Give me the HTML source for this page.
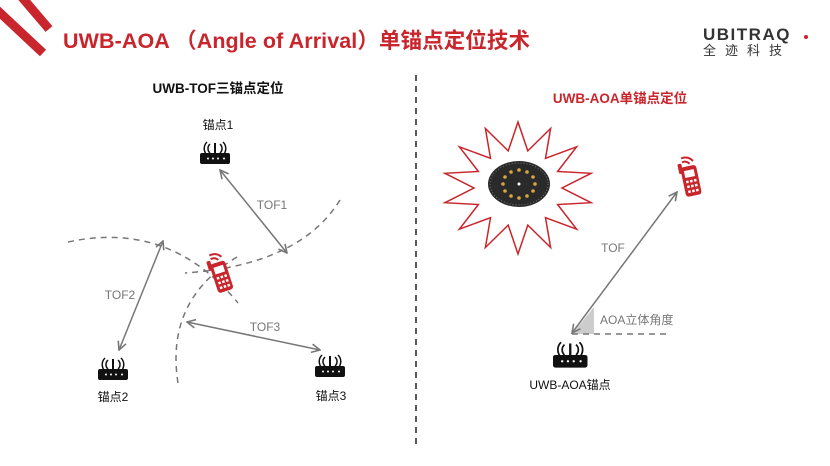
<!DOCTYPE html>
<html><head><meta charset="utf-8"><style>
html,body{margin:0;padding:0;background:#fff;}
body{width:830px;height:466px;overflow:hidden;position:relative;font-family:"Liberation Sans","Noto Sans CJK SC",sans-serif;}
</style></head><body>
<svg width="830" height="466" viewBox="0 0 830 466" xmlns="http://www.w3.org/2000/svg" style="position:absolute;left:0;top:0">
<defs>
<marker id="ah" viewBox="0 0 10 10" refX="9" refY="5" markerWidth="7" markerHeight="7" orient="auto-start-reverse"><path d="M1,1 L9,5 L1,9" fill="none" stroke="#777" stroke-width="1.5"/></marker>
<g id="router">
<rect x="0" y="13" width="30" height="11" rx="2" fill="#111"/>
<rect x="14" y="3" width="2" height="11" fill="#111"/>
<path d="M10,4 A6,6 0 0 0 10,13 M7,2 A9,9 0 0 0 7,15 M20,4 A6,6 0 0 1 20,13 M23,2 A9,9 0 0 1 23,15" fill="none" stroke="#111" stroke-width="1.5"/>
<circle cx="8" cy="18.5" r="1" fill="#fff"/><circle cx="13" cy="18.5" r="1" fill="#fff"/><circle cx="18" cy="18.5" r="1" fill="#fff"/><circle cx="24" cy="18.5" r="1" fill="#fff"/>
</g>
<g id="phone">
<rect x="2" y="10" width="16" height="30" rx="3" fill="#c9252c"/>
<rect x="0" y="6" width="4" height="10" rx="1" fill="#c9252c"/>
<rect x="5" y="14" width="10" height="7" fill="#fff"/>
<g fill="#fff"><rect x="5" y="24" width="2.5" height="2.5"/><rect x="9" y="24" width="2.5" height="2.5"/><rect x="13" y="24" width="2.5" height="2.5"/><rect x="5" y="29" width="2.5" height="2.5"/><rect x="9" y="29" width="2.5" height="2.5"/><rect x="13" y="29" width="2.5" height="2.5"/><rect x="5" y="34" width="2.5" height="2.5"/><rect x="9" y="34" width="2.5" height="2.5"/><rect x="13" y="34" width="2.5" height="2.5"/></g>
<path d="M5,5 A6,6 0 0 1 12,8 M5,1 A10,10 0 0 1 16,6" fill="none" stroke="#c9252c" stroke-width="2"/>
</g>
</defs>
<!-- header stripes -->
<line x1="20" y1="-5" x2="49" y2="29" stroke="#c9252c" stroke-width="9"/>
<line x1="-4" y1="9" x2="43" y2="53" stroke="#c9252c" stroke-width="9"/>
<text x="63" y="48" font-size="21.5" font-weight="bold" fill="#c9252c" textLength="467">UWB-AOA （Angle of Arrival）单锚点定位技术</text>
<text x="703" y="40" font-size="17" fill="#333" letter-spacing="1.5" font-weight="bold">UBITRAQ</text>
<circle cx="806" cy="37" r="2" fill="#c9252c"/>
<text x="703" y="55" font-size="13" fill="#333" letter-spacing="9">全迹科技</text>
<!-- divider -->
<line x1="416" y1="75" x2="416" y2="446" stroke="#222" stroke-width="1.5" stroke-dasharray="6,5"/>
<!-- left -->
<text x="218" y="93" font-size="13.5" font-weight="bold" fill="#111" text-anchor="middle">UWB-TOF三锚点定位</text>
<g fill="none" stroke="#777" stroke-width="1.5" stroke-dasharray="6,5">
<path d="M340,200 Q300,265 185,273"/>
<path d="M68,242 Q170,220 238,303"/>
<path d="M237,257 Q165,300 178,383"/>
</g>
<g stroke="#777" stroke-width="1.5" marker-start="url(#ah)" marker-end="url(#ah)">
<line x1="220" y1="170" x2="287" y2="253"/>
<line x1="163" y1="241" x2="119" y2="350"/>
<line x1="187" y1="322" x2="320" y2="350"/>
</g>
<use href="#router" x="200" y="140"/>
<use href="#router" x="98" y="356"/>
<use href="#router" x="315" y="353"/>
<use href="#phone" transform="translate(210,252) rotate(-18 10 20)"/>
<g font-size="12" fill="#111" text-anchor="middle">
<text x="218" y="129">锚点1</text><text x="113" y="401">锚点2</text><text x="331" y="400">锚点3</text>
</g>
<g font-size="12" fill="#777" text-anchor="middle">
<text x="272" y="209">TOF1</text><text x="120" y="299">TOF2</text><text x="265" y="331">TOF3</text>
</g>
<!-- right -->
<text x="620" y="103" font-size="13.5" font-weight="bold" fill="#c9252c" text-anchor="middle">UWB-AOA单锚点定位</text>
<polygon points="518,122 527.8,150.9 550.6,128.5 545.5,158.3 576.6,146.8 557.6,171.5 591.1,173.3 562,188 591.1,202.7 557.6,204.5 576.6,229.2 545.5,217.7 550.6,247.5 527.8,225.1 518,254 508.2,225.1 485.4,247.5 490.5,217.7 459.4,229.2 478.4,204.5 444.9,202.7 474,188 444.9,173.3 478.4,171.5 459.4,146.8 490.5,158.3 485.4,128.5 508.2,150.9" fill="#fff" stroke="#c9252c" stroke-width="1.5"/>
<ellipse cx="519" cy="184" rx="31" ry="23" fill="#2a2a2a"/>
<ellipse cx="519" cy="184" rx="29" ry="21" fill="none" stroke="#777" stroke-width="1" stroke-dasharray="1,2"/>
<g fill="#d9a640">
<circle cx="519" cy="170" r="1.8"/><circle cx="527" cy="172" r="1.8"/><circle cx="533" cy="177" r="1.8"/><circle cx="535" cy="184" r="1.8"/><circle cx="533" cy="191" r="1.8"/><circle cx="527" cy="196" r="1.8"/><circle cx="519" cy="198" r="1.8"/><circle cx="511" cy="196" r="1.8"/><circle cx="505" cy="191" r="1.8"/><circle cx="503" cy="184" r="1.8"/><circle cx="505" cy="177" r="1.8"/><circle cx="511" cy="172" r="1.8"/>
</g>
<circle cx="519" cy="184" r="1.5" fill="#fff"/>
<polygon points="572,334 594,334 594,307" fill="#ccc"/>
<line x1="572" y1="334" x2="666" y2="334" stroke="#777" stroke-width="1.5" stroke-dasharray="6,5"/>
<line x1="572" y1="333" x2="677" y2="192" stroke="#777" stroke-width="1.5" marker-start="url(#ah)" marker-end="url(#ah)"/>
<use href="#phone" transform="translate(680,156) rotate(-12 10 20)"/>
<use href="#router" transform="translate(553,340) scale(1.15)"/>
<text x="613" y="252" font-size="12" fill="#777" text-anchor="middle">TOF</text>
<text x="600" y="324" font-size="12" fill="#777">AOA立体角度</text>
<text x="570" y="389" font-size="12" fill="#111" text-anchor="middle">UWB-AOA锚点</text>
</svg>
</body></html>
